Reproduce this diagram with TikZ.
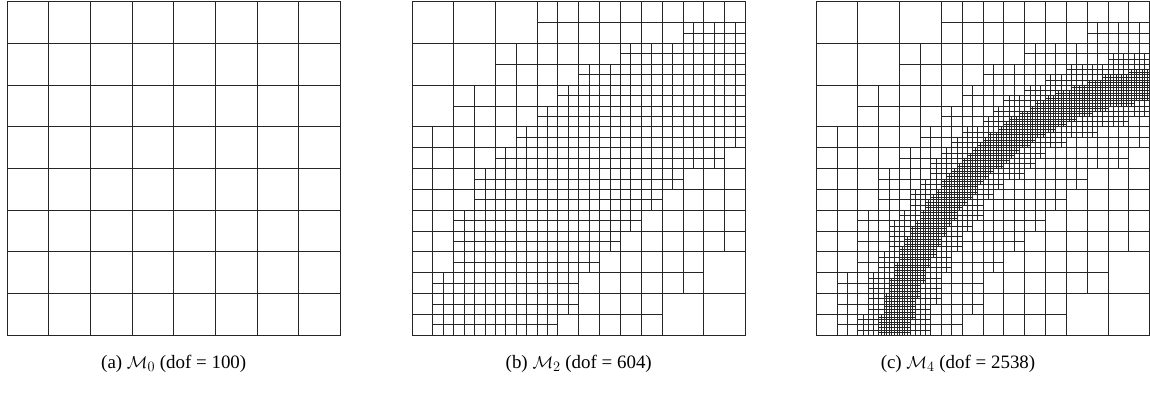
\documentclass[tikz,border=0pt]{standalone}
\usepackage{fontspec}
\setmainfont{Liberation Serif}
\tikzset{
  meshline/.style={line width=0.9bp, draw=black!85},
  fineline/.style={line width=0.7bp, draw=black!85},
  capstyle/.style={font=\fontsize{19}{22}\selectfont, anchor=base, inner sep=0pt}
}
% state of each half cell (rows top to bottom): 0 = unrefined base cell, 1 = level-1 leaf, 2 = refined to level 2
\def\MeshRows{%
{0,0,0,0,0,0,1,1,1,1,1,1,1,1,1,1},%
{0,0,0,0,0,0,1,1,1,1,1,1,1,2,2,2},%
{0,0,0,0,1,1,1,1,1,1,2,2,2,2,2,2},%
{0,0,0,0,1,1,1,1,2,2,2,2,2,2,2,2},%
{0,0,1,1,1,1,1,2,2,2,2,2,2,2,2,2},%
{0,0,1,1,1,1,2,2,2,2,2,2,2,2,2,2},%
{1,1,1,1,1,2,2,2,2,2,2,2,2,2,2,2},%
{1,1,1,1,2,2,2,2,2,2,2,2,2,2,2,1},%
{1,1,1,2,2,2,2,2,2,2,2,2,2,1,1,1},%
{1,1,1,2,2,2,2,2,2,2,2,2,1,1,1,1},%
{1,1,2,2,2,2,2,2,2,2,2,1,1,1,1,1},%
{1,1,2,2,2,2,2,2,2,2,1,1,1,1,1,1},%
{1,1,2,2,2,2,2,2,2,1,1,1,1,1,0,0},%
{1,2,2,2,2,2,2,2,1,1,1,1,1,1,0,0},%
{1,2,2,2,2,2,2,2,1,1,1,1,0,0,0,0},%
{1,2,2,2,2,2,2,1,1,1,1,1,0,0,0,0}}
\def\FrontX{8.75}
\def\FrontY{-0.88}
\def\FrontR{6.93}
\newcommand\basegrid{%
  \foreach \k in {0,...,8} {\draw[meshline] (\k,0) -- (\k,8); \draw[meshline] (0,\k) -- (8,\k);}%
}
% level-1 and level-2 lines; #1 = 1 adds levels 3 and 4 near the front
\newcommand\hiermesh[1]{%
  \foreach \row [count=\jj from 0] in \MeshRows {%
    \foreach \s [count=\ii from 0] in \row {%
      \ifnum\s>0\relax
        \pgfmathsetmacro\xa{\ii/2}%
        \pgfmathsetmacro\ya{8-(\jj+1)/2}%
        \draw[meshline] (\xa,\ya) rectangle ++(0.5,0.5);%
        \ifnum\s>1\relax
          \draw[meshline] (\xa+0.25,\ya) -- ++(0,0.5) (\xa,\ya+0.25) -- ++(0.5,0);%
          \ifnum#1=1\relax
            \foreach \qa in {0,1} {\foreach \qb in {0,1} {%
              \pgfmathsetmacro\qx{\xa+0.25*\qa}%
              \pgfmathsetmacro\qy{\ya+0.25*\qb}%
              \pgfmathsetmacro\dd{abs(veclen(\qx+0.125-\FrontX,\qy+0.125-\FrontY)-\FrontR)}%
              \ifdim\dd pt<0.8pt\relax
                \draw[fineline] (\qx+0.125,\qy) -- ++(0,0.25) (\qx,\qy+0.125) -- ++(0.25,0);%
                \foreach \ra in {0,1} {\foreach \rb in {0,1} {%
                  \pgfmathsetmacro\rx{\qx+0.125*\ra}%
                  \pgfmathsetmacro\ry{\qy+0.125*\rb}%
                  \pgfmathsetmacro\de{abs(veclen(\rx+0.0625-\FrontX,\ry+0.0625-\FrontY)-\FrontR)}%
                  \ifdim\de pt<0.38pt\relax
                    \draw[fineline] (\rx+0.0625,\ry) -- ++(0,0.125) (\rx,\ry+0.0625) -- ++(0.125,0);%
                  \fi
                }}%
              \fi
            }}%
          \fi
        \fi
      \fi
    }%
  }%
}
\begin{document}
\begin{tikzpicture}[x=1bp,y=1bp]
\useasboundingbox (0,0) rectangle (1150,398);
% (a) uniform mesh
\begin{scope}[xshift=7bp, yshift=62.7bp, x=41.6875bp, y=41.6875bp]
  \basegrid
\end{scope}
% (b) M2
\begin{scope}[xshift=412bp, yshift=62.7bp, x=41.6875bp, y=41.6875bp]
  \basegrid
  \hiermesh{0}
\end{scope}
% (c) M4
\begin{scope}[xshift=816.2bp, yshift=62.7bp, x=41.6875bp, y=41.6875bp]
  \basegrid
  \hiermesh{1}
\end{scope}
\node[capstyle] (capa) at (173.75,30) {(a) $\mathcal{M}_0$ (dof = 100)};
\node[capstyle] (capb) at (578.75,30) {(b) $\mathcal{M}_2$ (dof = 604)};
\node[capstyle] (capc) at (958,30) {(c) $\mathcal{M}_4$ (dof = 2538)};
\end{tikzpicture}
\end{document}
